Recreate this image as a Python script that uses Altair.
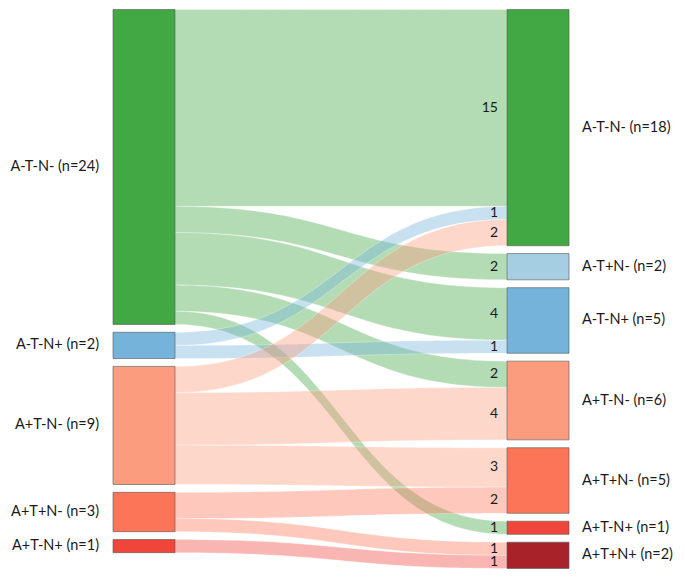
import altair as alt
import pandas as pd
import numpy as np

# ---------------- data ----------------
left_names = ["A-T-N-", "A-T-N+", "A+T-N-", "A+T+N-", "A+T-N+"]
right_names = ["A-T-N-", "A-T+N-", "A-T-N+", "A+T-N-", "A+T+N-", "A+T-N+", "A+T+N+"]

link_source = ["A-T-N-", "A-T-N-", "A-T-N-", "A-T-N-", "A-T-N-",
               "A-T-N+", "A-T-N+",
               "A+T-N-", "A+T-N-", "A+T-N-",
               "A+T+N-", "A+T+N-",
               "A+T-N+"]
link_target = ["A-T-N-", "A-T+N-", "A-T-N+", "A+T-N-", "A+T-N+",
               "A-T-N-", "A-T-N+",
               "A-T-N-", "A+T-N-", "A+T+N-",
               "A+T+N-", "A+T+N+",
               "A+T+N+"]
link_value = [15, 2, 4, 2, 1,
              1, 1,
              2, 4, 3,
              2, 1,
              1]

state_colors = {
    "A-T-N-": "#41a843",
    "A-T+N-": "#a6cee3",
    "A-T-N+": "#76b3da",
    "A+T-N-": "#fc9c7e",
    "A+T+N-": "#fc7559",
    "A+T-N+": "#f0453b",
    "A+T+N+": "#a8222a",
}

# ---------------- layout (computed from the data) ----------------
GAP = 0.6          # gap between nodes, in value units
NODE_W = 0.136     # node width, as fraction of column distance
FONT = "Lato"
FS = 14.5

def totals(names, key_list):
    return [sum(v for k, v in zip(key_list, link_value) if k == n) for n in names]

left_tot = totals(left_names, link_source)
right_tot = totals(right_names, link_target)

def stack(tot):
    y0s, y = [], 0.0
    for t in tot:
        y0s.append(y)
        y += t + GAP
    return y0s

left_y0 = stack(left_tot)
right_y0 = stack(right_tot)

nodes = []
for i, n in enumerate(left_names):
    nodes.append(dict(name=n, label=f"{n} (n={left_tot[i]})", side="L",
                      x0=0.0, x1=NODE_W, y0=left_y0[i], y1=left_y0[i] + left_tot[i],
                      ym=left_y0[i] + left_tot[i] / 2, color=state_colors[n]))
for i, n in enumerate(right_names):
    nodes.append(dict(name=n, label=f"{n} (n={right_tot[i]})", side="R",
                      x0=1.0 - NODE_W, x1=1.0, y0=right_y0[i], y1=right_y0[i] + right_tot[i],
                      ym=right_y0[i] + right_tot[i] / 2, color=state_colors[n]))
nodes_df = pd.DataFrame(nodes)

n_links = len(link_value)
src_off = [0.0] * n_links
tgt_off = [0.0] * n_links
for si, s in enumerate(left_names):
    idx = [k for k in range(n_links) if link_source[k] == s]
    idx.sort(key=lambda k: right_names.index(link_target[k]))
    y = left_y0[si]
    for k in idx:
        src_off[k] = y
        y += link_value[k]
for ti, t in enumerate(right_names):
    idx = [k for k in range(n_links) if link_target[k] == t]
    idx.sort(key=lambda k: left_names.index(link_source[k]))
    y = right_y0[ti]
    for k in idx:
        tgt_off[k] = y
        y += link_value[k]

ts = np.linspace(0, 1, 60)
xb = 1.5 * ts * (1 - ts) + ts ** 3
yb = 3 * ts ** 2 - 2 * ts ** 3
xa, xz = NODE_W, 1.0 - NODE_W
flow_labels = []
link_layers = []
total_h = max(left_y0[-1] + left_tot[-1], right_y0[-1] + right_tot[-1])
xscale = alt.Scale(domain=[-0.2303, 1.2368], nice=False, zero=False)
yscale = alt.Scale(domain=[-0.12, total_h + 0.12], reverse=True, nice=False, zero=False)

for k in range(n_links):
    v = link_value[k]
    top = src_off[k] + (tgt_off[k] - src_off[k]) * yb
    df = pd.DataFrame(dict(x=xa + (xz - xa) * xb, ytop=top, ybot=top + v))
    link_layers.append(
        alt.Chart(df).mark_area(
            color=state_colors[link_source[k]], fillOpacity=0.4,
            stroke="white", strokeWidth=0.6, strokeOpacity=0.5, orient="vertical"
        ).encode(
            x=alt.X("x:Q", scale=xscale, axis=None),
            y=alt.Y("ytop:Q", scale=yscale, axis=None, stack=None),
            y2="ybot:Q",
        )
    )
    flow_labels.append(dict(x=xz, y=tgt_off[k] + v / 2, text=str(v)))
flow_df = pd.DataFrame(flow_labels)

nodes_layer = alt.Chart(nodes_df).mark_rect(
    stroke="#555555", strokeWidth=1, strokeOpacity=0.6
).encode(
    x=alt.X("x0:Q", scale=xscale, axis=None),
    x2="x1:Q",
    y=alt.Y("y0:Q", scale=yscale, axis=None),
    y2="y1:Q",
    color=alt.Color("color:N", scale=None),
)

left_lab = alt.Chart(nodes_df[nodes_df.side == "L"]).mark_text(
    align="right", baseline="middle", dx=-14, font=FONT, fontSize=FS, color="#1a1a1a"
).encode(
    x=alt.X("x0:Q", scale=xscale, axis=None),
    y=alt.Y("ym:Q", scale=yscale, axis=None),
    text="label:N",
)

right_lab = alt.Chart(nodes_df[nodes_df.side == "R"]).mark_text(
    align="left", baseline="middle", dx=13, font=FONT, fontSize=FS, color="#1a1a1a"
).encode(
    x=alt.X("x1:Q", scale=xscale, axis=None),
    y=alt.Y("ym:Q", scale=yscale, axis=None),
    text="label:N",
)

flow_lab = alt.Chart(flow_df).mark_text(
    align="right", baseline="middle", dx=-9, font=FONT, fontSize=14, color="#1a1a1a"
).encode(
    x=alt.X("x:Q", scale=xscale, axis=None),
    y=alt.Y("y:Q", scale=yscale, axis=None),
    text="text:N",
)

chart = alt.layer(*link_layers, nodes_layer, left_lab, right_lab, flow_lab).properties(
    width=669, height=562, padding=0, autosize="none"
).configure_view(stroke=None)

chart.save("out.html", embed_options={"renderer": "svg", "actions": False})
